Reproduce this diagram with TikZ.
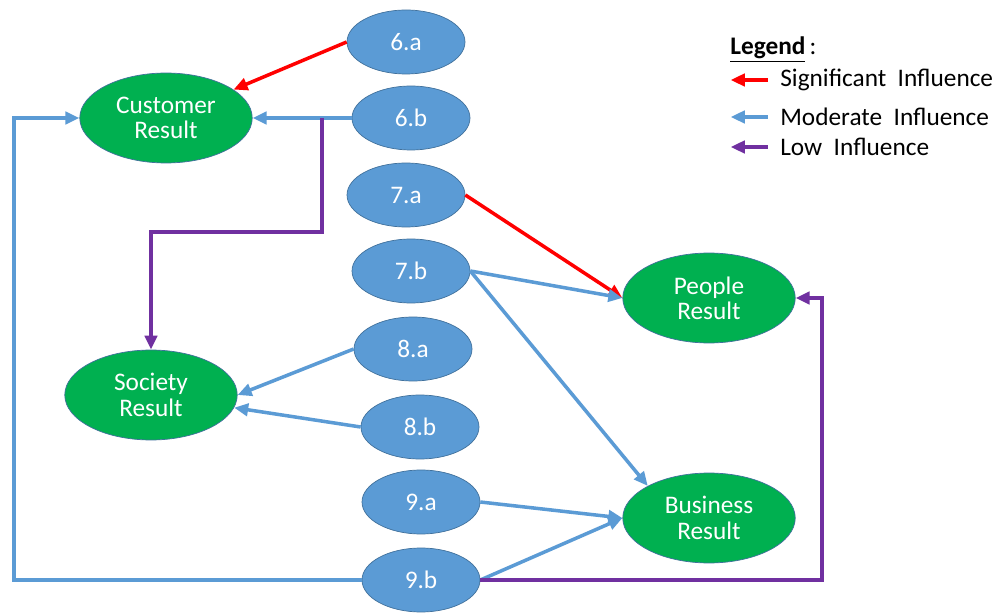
\documentclass[tikz,border=0pt]{standalone}
\usepackage{fontspec}
\setmainfont{Carlito}
\usetikzlibrary{shapes.geometric,arrows.meta}
\definecolor{resgreen}{HTML}{00B050}
\definecolor{critblue}{HTML}{5B9BD5}
\definecolor{edgeblue}{HTML}{41719C}
\definecolor{lowpurple}{HTML}{7030A0}

\begin{document}
\begin{tikzpicture} [x=0.02cm, y=-0.02cm,
			result/.style = {draw=edgeblue,
					 ellipse,
					 fill=resgreen,
					 text=white,
					 minimum width=3.45cm,
					 minimum height=1.8cm,
					 inner sep=0pt,
					 align=center,
					 font=\fontsize{14.4}{14.4}\selectfont},
			crit/.style = {draw=edgeblue,
				       ellipse,
				       fill=critblue,
				       text=white,
				       minimum width=2.36cm,
				       minimum height=1.28cm,
				       inner sep=0pt,
				       font=\fontsize{14.4}{14.4}\selectfont},
			link/.style = {line width=2pt, -{Triangle[length=8pt,width=7pt]}},
			significant/.style = {link, draw=red},
			moderate/.style = {link, draw=critblue},
			weak/.style = {link, draw=lowpurple},
			key/.style = {anchor=west, inner sep=0pt, font=\fontsize{14.4}{16}\selectfont}]

	\fill[white] (0,0) rectangle (996,614);
	\useasboundingbox (0,0) rectangle (996,614);

	% results
	\node (cust) at (166,118) [result] {Customer\\Result};
	\node (soc) at (151,395) [result] {Society\\Result};
	\node (ppl) at (709,298) [result] {People\\Result};
	\node (bus) at (709,518) [result] {Business\\Result};

	% criteria
	\node (c6a) at (406,42) [crit] {6.a};
	\node (c6b) at (411,118) [crit] {6.b};
	\node (c7a) at (406,195) [crit] {7.a};
	\node (c7b) at (411,271) [crit] {7.b};
	\node (c8a) at (413,349) [crit] {8.a};
	\node (c8b) at (420,427) [crit] {8.b};
	\node (c9a) at (421,502) [crit] {9.a};
	\node (c9b) at (421,580) [crit] {9.b};

	\coordinate (split) at (322,118);
	\coordinate (bend) at (322,232);
	\coordinate (loopsw) at (14,580);
	\coordinate (loopse) at (822,580);

	\draw[significant] (c6a.west) -- (cust);
	\draw[moderate] (c6b) -- (cust);
	\draw[weak] (split) -- (bend) -| (soc);
	\draw[moderate] (c9b.west) -- (loopsw) |- (cust);

	\draw[significant] (c7a.east) -- (ppl.west);
	\draw[moderate] (c7b.east) -- (ppl.west);
	\draw[moderate] (c7b.east) -- (bus.north west);

	\draw[moderate] (c8a.west) -- (soc.east);
	\draw[moderate] (c8b.west) -- (soc);

	\draw[moderate] (c9a.east) -- (bus.west);
	\draw[moderate] (c9b.east) -- (bus.west);
	\draw[weak] (c9b.east) -- (loopse) |- (ppl.east);

	% legend
	\node (legtitle) at (730,50) [key] {\underline{\textbf{Legend}}\,:};
	\node (keysig) at (780,80) [key] {Significant\ \ Influence};
	\node (keymod) at (780,117) [key] {Moderate\ \ Influence};
	\node (keylow) at (780,147) [key] {Low\ \ Influence};
	\draw[significant] ([xshift=-7pt]keysig.west) -- ++(-37,0);
	\draw[moderate] ([xshift=-7pt]keymod.west) -- ++(-37,0);
	\draw[weak] ([xshift=-7pt]keylow.west) -- ++(-37,0);

\end{tikzpicture}
\end{document}
